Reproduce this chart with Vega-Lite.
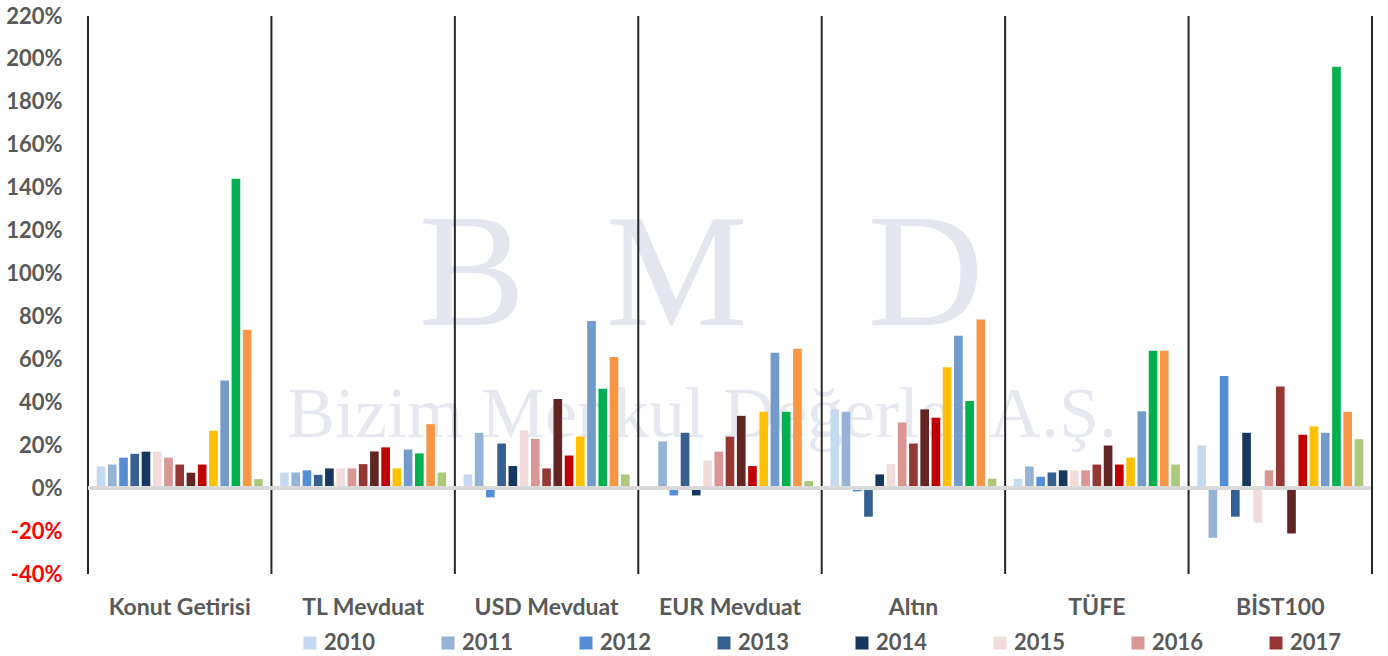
{
  "$schema": "https://vega.github.io/schema/vega-lite/v6.json",
  "autosize": "none",
  "width": 1284,
  "height": 558,
  "padding": {"left": 88, "top": 16, "right": 16, "bottom": 82},
  "background": "white",
  "config": {"view": {"stroke": null}, "font": "Lato"},
  "datasets": {
    "returns": [
      {"c": "Konut Getirisi", "yr": "2010", "v": 10.1}, {"c": "Konut Getirisi", "yr": "2011", "v": 11}, {"c": "Konut Getirisi", "yr": "2012", "v": 14.2}, {"c": "Konut Getirisi", "yr": "2013", "v": 16}, {"c": "Konut Getirisi", "yr": "2014", "v": 17}, {"c": "Konut Getirisi", "yr": "2015", "v": 17}, {"c": "Konut Getirisi", "yr": "2016", "v": 14.2}, {"c": "Konut Getirisi", "yr": "2017", "v": 11}, {"c": "Konut Getirisi", "yr": "2018", "v": 7.2}, {"c": "Konut Getirisi", "yr": "2019", "v": 11}, {"c": "Konut Getirisi", "yr": "2020", "v": 26.8}, {"c": "Konut Getirisi", "yr": "2021", "v": 50.2}, {"c": "Konut Getirisi", "yr": "2022", "v": 144.2}, {"c": "Konut Getirisi", "yr": "2023", "v": 73.8}, {"c": "Konut Getirisi", "yr": "2024", "v": 4.2},
      {"c": "TL Mevduat", "yr": "2010", "v": 7.3}, {"c": "TL Mevduat", "yr": "2011", "v": 7.3}, {"c": "TL Mevduat", "yr": "2012", "v": 8.3}, {"c": "TL Mevduat", "yr": "2013", "v": 6.2}, {"c": "TL Mevduat", "yr": "2014", "v": 9.2}, {"c": "TL Mevduat", "yr": "2015", "v": 9.2}, {"c": "TL Mevduat", "yr": "2016", "v": 9.2}, {"c": "TL Mevduat", "yr": "2017", "v": 11.2}, {"c": "TL Mevduat", "yr": "2018", "v": 17.1}, {"c": "TL Mevduat", "yr": "2019", "v": 19}, {"c": "TL Mevduat", "yr": "2020", "v": 9.2}, {"c": "TL Mevduat", "yr": "2021", "v": 18}, {"c": "TL Mevduat", "yr": "2022", "v": 16.2}, {"c": "TL Mevduat", "yr": "2023", "v": 29.8}, {"c": "TL Mevduat", "yr": "2024", "v": 7.3},
      {"c": "USD Mevduat", "yr": "2010", "v": 6.4}, {"c": "USD Mevduat", "yr": "2011", "v": 25.8}, {"c": "USD Mevduat", "yr": "2012", "v": -4.3}, {"c": "USD Mevduat", "yr": "2013", "v": 20.8}, {"c": "USD Mevduat", "yr": "2014", "v": 10.3}, {"c": "USD Mevduat", "yr": "2015", "v": 26.9}, {"c": "USD Mevduat", "yr": "2016", "v": 23}, {"c": "USD Mevduat", "yr": "2017", "v": 9.2}, {"c": "USD Mevduat", "yr": "2018", "v": 41.5}, {"c": "USD Mevduat", "yr": "2019", "v": 15.2}, {"c": "USD Mevduat", "yr": "2020", "v": 24}, {"c": "USD Mevduat", "yr": "2021", "v": 77.9}, {"c": "USD Mevduat", "yr": "2022", "v": 46.3}, {"c": "USD Mevduat", "yr": "2023", "v": 61.1}, {"c": "USD Mevduat", "yr": "2024", "v": 6.4},
      {"c": "EUR Mevduat", "yr": "2010", "v": 0}, {"c": "EUR Mevduat", "yr": "2011", "v": 21.8}, {"c": "EUR Mevduat", "yr": "2012", "v": -3.4}, {"c": "EUR Mevduat", "yr": "2013", "v": 25.8}, {"c": "EUR Mevduat", "yr": "2014", "v": -3.4}, {"c": "EUR Mevduat", "yr": "2015", "v": 12.9}, {"c": "EUR Mevduat", "yr": "2016", "v": 17}, {"c": "EUR Mevduat", "yr": "2017", "v": 24}, {"c": "EUR Mevduat", "yr": "2018", "v": 33.7}, {"c": "EUR Mevduat", "yr": "2019", "v": 10.3}, {"c": "EUR Mevduat", "yr": "2020", "v": 35.6}, {"c": "EUR Mevduat", "yr": "2021", "v": 63.1}, {"c": "EUR Mevduat", "yr": "2022", "v": 35.6}, {"c": "EUR Mevduat", "yr": "2023", "v": 65}, {"c": "EUR Mevduat", "yr": "2024", "v": 3.3},
      {"c": "Altın", "yr": "2010", "v": 36.7}, {"c": "Altın", "yr": "2011", "v": 35.6}, {"c": "Altın", "yr": "2012", "v": -1.5}, {"c": "Altın", "yr": "2013", "v": -13.3}, {"c": "Altın", "yr": "2014", "v": 6.4}, {"c": "Altın", "yr": "2015", "v": 11.2}, {"c": "Altın", "yr": "2016", "v": 30.6}, {"c": "Altın", "yr": "2017", "v": 20.8}, {"c": "Altın", "yr": "2018", "v": 36.7}, {"c": "Altın", "yr": "2019", "v": 32.8}, {"c": "Altın", "yr": "2020", "v": 56.3}, {"c": "Altın", "yr": "2021", "v": 71}, {"c": "Altın", "yr": "2022", "v": 40.6}, {"c": "Altın", "yr": "2023", "v": 78.6}, {"c": "Altın", "yr": "2024", "v": 4.4},
      {"c": "TÜFE", "yr": "2010", "v": 4.4}, {"c": "TÜFE", "yr": "2011", "v": 10.1}, {"c": "TÜFE", "yr": "2012", "v": 5.3}, {"c": "TÜFE", "yr": "2013", "v": 7.3}, {"c": "TÜFE", "yr": "2014", "v": 8.3}, {"c": "TÜFE", "yr": "2015", "v": 8.3}, {"c": "TÜFE", "yr": "2016", "v": 8.3}, {"c": "TÜFE", "yr": "2017", "v": 11}, {"c": "TÜFE", "yr": "2018", "v": 19.9}, {"c": "TÜFE", "yr": "2019", "v": 11}, {"c": "TÜFE", "yr": "2020", "v": 14.2}, {"c": "TÜFE", "yr": "2021", "v": 35.8}, {"c": "TÜFE", "yr": "2022", "v": 64}, {"c": "TÜFE", "yr": "2023", "v": 64}, {"c": "TÜFE", "yr": "2024", "v": 11},
      {"c": "BİST100", "yr": "2010", "v": 19.9}, {"c": "BİST100", "yr": "2011", "v": -23.1}, {"c": "BİST100", "yr": "2012", "v": 52.2}, {"c": "BİST100", "yr": "2013", "v": -13.3}, {"c": "BİST100", "yr": "2014", "v": 25.8}, {"c": "BİST100", "yr": "2015", "v": -16.1}, {"c": "BİST100", "yr": "2016", "v": 8.3}, {"c": "BİST100", "yr": "2017", "v": 47.4}, {"c": "BİST100", "yr": "2018", "v": -21.1}, {"c": "BİST100", "yr": "2019", "v": 24.9}, {"c": "BİST100", "yr": "2020", "v": 28.8}, {"c": "BİST100", "yr": "2021", "v": 25.8}, {"c": "BİST100", "yr": "2022", "v": 196.3}, {"c": "BİST100", "yr": "2023", "v": 35.6}, {"c": "BİST100", "yr": "2024", "v": 22.8}
    ],
    "cats": [
      {"c": "Konut Getirisi"}, {"c": "TL Mevduat"}, {"c": "USD Mevduat"}, {"c": "EUR Mevduat"}, {"c": "Altın"}, {"c": "TÜFE"}, {"c": "BİST100"}
    ]
  },
  "data": {"name": "returns"},
  "layer": [
    {
      "data": {"values": [{"t": "B\u00a0\u00a0M\u00a0\u00a0\u00a0D"}]},
      "mark": {"type": "text", "font": "Liberation Serif", "fontSize": 160, "color": "#e4e6ef", "baseline": "middle", "align": "center", "dx": -29, "dy": 8},
      "encoding": {
        "x": {"datum": "EUR Mevduat"},
        "y": {"datum": 102},
        "text": {"field": "t"}
      }
    },
    {
      "data": {"values": [{"t": "Bizim Menkul Değerler A.Ş."}]},
      "mark": {"type": "text", "font": "Liberation Serif", "fontSize": 72, "color": "#e6e8f0", "baseline": "middle", "align": "center", "dx": -28},
      "encoding": {
        "x": {"datum": "EUR Mevduat"},
        "y": {"datum": 34},
        "text": {"field": "t"}
      }
    },
    {
      "data": {"name": "cats"},
      "mark": {"type": "rule", "color": "#262626", "strokeWidth": 2},
      "encoding": {"x": {"field": "c", "type": "nominal", "bandPosition": -0.0525}}
    },
    {
      "mark": {"type": "bar"},
      "encoding": {
        "x": {
          "field": "c", "type": "nominal",
          "scale": {"domain": ["Konut Getirisi", "TL Mevduat", "USD Mevduat", "EUR Mevduat", "Altın", "TÜFE", "BİST100"], "paddingInner": 0.095, "paddingOuter": 0.0475},
          "axis": {
            "title": null, "domain": false, "ticks": false, "tickSize": 0, "labelAngle": 0, "labelAlign": "center", "grid": false,
            "labelFont": "Lato", "labelFontSize": 23, "labelFontWeight": "bold", "labelColor": "#595959",
            "labelPadding": 40, "labelBaseline": "alphabetic"
          }
        },
        "xOffset": {
          "field": "yr", "type": "nominal",
          "scale": {"paddingInner": 0.23, "paddingOuter": 0}
        },
        "y": {
          "field": "v", "type": "quantitative",
          "scale": {"domain": [-40, 220], "nice": false, "zero": false},
          "axis": {
            "title": null, "domain": false, "ticks": false, "tickSize": 0, "grid": false,
            "values": [-40, -20, 0, 20, 40, 60, 80, 100, 120, 140, 160, 180, 200, 220],
            "labelExpr": "datum.value + '%'",
            "labelFont": "Lato", "labelFontSize": 22, "labelFontWeight": "bold",
            "labelColor": {"condition": {"test": "datum.value < 0", "value": "#ff0000"}, "value": "#595959"},
            "labelPadding": 26
          }
        },
        "color": {
          "field": "yr", "type": "nominal",
          "scale": {
            "domain": ["2010", "2011", "2012", "2013", "2014", "2015", "2016", "2017", "2018", "2019", "2020", "2021", "2022", "2023", "2024"],
            "range": ["#C6D9F0", "#95B3D7", "#558ED5", "#366092", "#17375E", "#F2DCDB", "#D99694", "#953735", "#632523", "#C00000", "#FFC000", "#729ACA", "#00B050", "#F79646", "#ACC87C"]
          },
          "legend": {
            "values": ["2010", "2011", "2012", "2013", "2014", "2015", "2016", "2017"],
            "title": null, "orient": "none", "direction": "horizontal", "columns": 8,
            "legendX": 211, "legendY": 616,
            "symbolType": "square", "symbolSize": 169, "symbolStrokeWidth": 0,
            "labelFont": "Lato", "labelFontSize": 22, "labelFontWeight": "bold", "labelColor": "#595959",
            "labelOffset": 3, "columnPadding": 61
          }
        }
      }
    },
    {
      "mark": {"type": "rule", "color": "#d9d9d9", "strokeWidth": 3},
      "encoding": {"y": {"datum": 0}}
    },
    {
      "mark": {"type": "rule", "color": "#262626", "strokeWidth": 2},
      "encoding": {"x": {"datum": "BİST100", "bandPosition": 1.0525}}
    }
  ]
}
